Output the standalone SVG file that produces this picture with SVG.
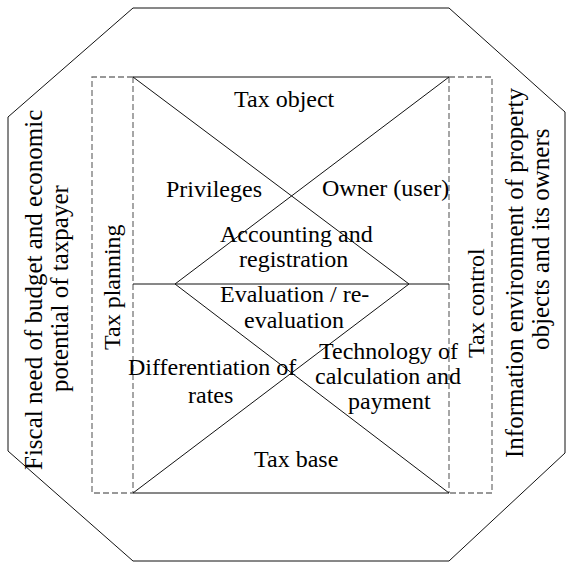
<svg xmlns="http://www.w3.org/2000/svg" width="566" height="562" viewBox="0 0 566 562">
<style>
.ln{stroke:#111;stroke-width:1;fill:none}
.dash{stroke:#777;stroke-width:1.3;fill:none;stroke-dasharray:6,3}
</style>
<rect width="566" height="562" fill="#fff"/>
<g id="outer">
<polygon class="ln" points="133,8 449,8 565,112 565,453 449,561 133,561 8,451 8,117"/>
</g>
<g id="frame">
<path class="dash" d="M133,77 H92 V493 H133 M449,77 H492 V493 H449 M133,77 V493 M449,77 V493"/>
<path class="ln" d="M133,77 H449 M133,493 H449 M133,284 H449"/>
</g>
<g id="connectors">
<path class="ln" d="M133,77 L409,284 L133,493 M449,77 L175,284 L449,493"/>
</g>
<g id="fiscal-need">
<text font-family="Liberation Serif" font-size="25" transform="translate(42,470) rotate(-90)">Fiscal need of budget and economic</text>
<text font-family="Liberation Serif" font-size="25" transform="translate(68,392) rotate(-90)">potential of taxpayer</text>
</g>
<g id="information-environment">
<text font-family="Liberation Serif" font-size="25" transform="translate(523,458) rotate(-90)">Information environment of property</text>
<text font-family="Liberation Serif" font-size="25" transform="translate(549,350) rotate(-90)">objects and its owners</text>
</g>
<g id="tax-planning"><text font-family="Liberation Serif" font-size="24" transform="translate(120,350) rotate(-90)">Tax planning</text></g>
<g id="tax-control"><text font-family="Liberation Serif" font-size="24" transform="translate(484,358) rotate(-90)">Tax control</text></g>
<g id="tax-object"><text font-family="Liberation Serif" font-size="24" x="234" y="107">Tax object</text></g>
<g id="privileges"><text font-family="Liberation Serif" font-size="24" x="166" y="197">Privileges</text></g>
<g id="owner"><text font-family="Liberation Serif" font-size="24" x="322" y="196">Owner (user)</text></g>
<g id="accounting"><text font-family="Liberation Serif" font-size="24" x="220" y="242">Accounting and</text><text font-family="Liberation Serif" font-size="24" x="239" y="267">registration</text></g>
<g id="evaluation"><text font-family="Liberation Serif" font-size="24" x="220" y="302">Evaluation / re-</text><text font-family="Liberation Serif" font-size="24" x="244" y="328">evaluation</text></g>
<g id="differentiation"><text font-family="Liberation Serif" font-size="24" x="128" y="375">Differentiation of</text><text font-family="Liberation Serif" font-size="24" x="188" y="403">rates</text></g>
<g id="technology"><text font-family="Liberation Serif" font-size="24" x="319" y="359">Technology of</text><text font-family="Liberation Serif" font-size="24" x="315" y="384">calculation and</text><text font-family="Liberation Serif" font-size="24" x="348" y="409">payment</text></g>
<g id="tax-base"><text font-family="Liberation Serif" font-size="24" x="254" y="467">Tax base</text></g>
</svg>
